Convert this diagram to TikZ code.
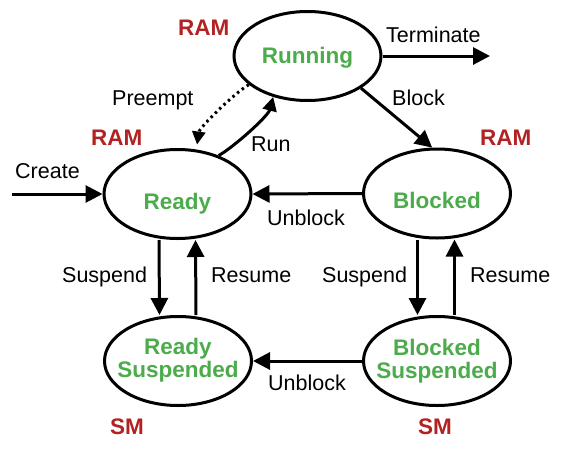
\documentclass[tikz,border=0pt]{standalone}
\usepackage{fontspec}
\setmainfont{Liberation Sans}
\usetikzlibrary{shapes.geometric,arrows.meta,calc}
\definecolor{stategreen}{RGB}{76,172,76}
\definecolor{memred}{RGB}{178,34,34}
\newcommand\lblfont{\fontsize{21.5}{24}\selectfont}
\newcommand\stfont{\fontsize{22.5}{23}\selectfont\bfseries}
\newcommand\sttext[2]{\makebox[0pt]{\raisebox{#1}[0pt][0pt]{#2}}}
\newcommand\twolines[2]{\begin{tabular}[t]{@{}c@{}}#1\\#2\end{tabular}}
\begin{document}
\begin{tikzpicture}[x=1pt,y=-1pt,
  state/.style={ellipse, draw, line width=3pt, minimum width=147pt, minimum height=89pt,
    inner sep=0pt, font=\stfont, text=stategreen},
  lbl/.style={anchor=base west, inner sep=0pt, font=\lblfont},
  mem/.style={anchor=base west, inner sep=0pt, font=\stfont, text=memred},
  arr/.style={line width=3pt, -{Triangle[length=17pt,width=17pt]}},
  sarr/.style={line width=3pt, -{Triangle[length=14pt,width=14pt]}},
  dotline/.style={line width=3pt, dash pattern=on 2.5pt off 3.5pt, -{Triangle[length=13pt,width=13pt]}}]
\useasboundingbox (0,0) rectangle (566,464);
\fill[white] (0,0) rectangle (566,464);

% states
\node[state] (Running) at (307.5,56) {\sttext{-7pt}{Running}};
\node[state] (Ready) at (177.5,194) {\sttext{-15pt}{Ready}};
\node[state] (Blocked) at (437,193.5) {\sttext{-15pt}{Blocked}};
\node[state] (RS) at (178,361) {\sttext{7pt}{\twolines{Ready}{Suspended}}};
\node[state] (BS) at (437,361) {\sttext{6pt}{\twolines{Blocked}{Suspended}}};

% free ends
\coordinate (cs) at (12,194);
\coordinate (te) at (490,56);

% connectors
\draw[arr] (cs) -- (Ready.west);
\draw[arr] (Running.east) -- (te);
\draw[arr] (Running.-31) -- (Blocked.96);
\draw[arr] (Blocked.west) -- (Ready.east);
\draw[sarr] (Ready.43) .. controls ($(Ready.43)+(17,-10)$) and ($(Running.230)+(-5,19)$) .. (Running.230);
\draw[dotline, shorten >=5pt] (Running.206) .. controls ($(Running.206)+(-15,9)$) and ($(Ready.67)+(3,-22)$) .. (Ready.67);
\draw[arr] ([xshift=-18.5pt]Ready.south) -- ([xshift=-18.5pt]RS.north);
\draw[arr] ([xshift=18pt]RS.north) -- ([xshift=18pt]Ready.south);
\draw[arr] ([xshift=-19.5pt]Blocked.south) -- ([xshift=-19.5pt]BS.north);
\draw[arr] ([xshift=17.5pt]BS.north) -- ([xshift=17.5pt]Blocked.south);
\draw[arr] (BS.west) -- (RS.east);

% labels
\node[lbl] (lterm) at (386,42) {Terminate};
\node[lbl] (lblock) at (392,105) {Block};
\node[lbl] (lpre) at (112,105) {Preempt};
\node[lbl] (lrun) at (251,151) {Run};
\node[lbl] (lcreate) at (15,178) {Create};
\node[lbl] (lunb1) at (267,225) {Unblock};
\node[lbl] (lunb2) at (268,390) {Unblock};
\node[lbl] (lsus1) at (62,282) {Suspend};
\node[lbl] (lres1) at (211,282) {Resume};
\node[lbl] (lsus2) at (322,282) {Suspend};
\node[lbl] (lres2) at (470,282) {Resume};

% memory labels
\node[mem] (m1) at (178,35) {RAM};
\node[mem] (m2) at (91,145) {RAM};
\node[mem] (m3) at (480,145) {RAM};
\node[mem] (m4) at (110,434) {SM};
\node[mem] (m5) at (418,434) {SM};
\end{tikzpicture}
\end{document}
